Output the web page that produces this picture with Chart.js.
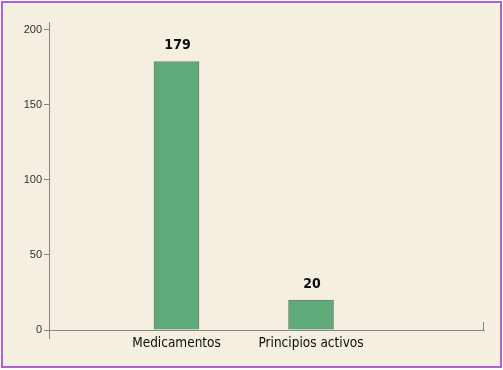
<!DOCTYPE html>
<html>
<head>
<meta charset="utf-8">
<script src="https://cdn.jsdelivr.net/npm/chart.js@4/dist/chart.umd.min.js"></script>
<style>
  body { margin: 0; background: #ffffff; }
  canvas { display: block; }
</style>
</head>
<body>
<canvas id="chart" width="503" height="370"></canvas>
<script>
// datos del gráfico
const categories = ["Medicamentos", "Principios activos"];
const values = [179, 20];
const yTicks = [0, 50, 100, 150, 200];

const condensed = "'DejaVu Sans Condensed', 'DejaVu Sans', sans-serif";

// fondo beige + marco morado
const framePlugin = {
    id: "frame",
    beforeDraw(chart) {
        const ctx = chart.ctx;
        ctx.save();
        ctx.fillStyle = "#f5efe2";
        ctx.fillRect(2, 2, 499, 365);
        ctx.strokeStyle = "#b061cf";
        ctx.lineWidth = 2;
        ctx.strokeRect(2, 2, 499, 365);
        ctx.restore();
    },
    afterDraw(chart) {
        // pequeña marca al final del eje X
        const { x, y } = chart.scales;
        const ctx = chart.ctx;
        const px = Math.round(x.right) - 0.5;
        const py = y.getPixelForValue(0);
        ctx.save();
        ctx.strokeStyle = "#888888";
        ctx.lineWidth = 1;
        ctx.beginPath();
        ctx.moveTo(px, py - 8);
        ctx.lineTo(px, py);
        ctx.stroke();
        ctx.restore();
    }
};

// etiquetas de valor encima de cada barra
const valueLabels = {
    id: "valueLabels",
    afterDatasetsDraw(chart) {
        const ctx = chart.ctx;
        const meta = chart.getDatasetMeta(0);
        ctx.save();
        ctx.font = "bold 14px " + condensed;
        ctx.fillStyle = "#0d0d0d";
        ctx.textAlign = "center";
        ctx.textBaseline = "bottom";
        meta.data.forEach((bar, i) => {
            ctx.fillText(String(values[i]), bar.x + 1, bar.y - 9);
        });
        ctx.restore();
    }
};

const ctx = document.getElementById("chart").getContext("2d");
new Chart(ctx, {
    type: "bar",
    data: {
        datasets: [{
            data: values.map((v, i) => ({ x: i + 1, y: v })),
            backgroundColor: "#5faa79",
            borderColor: "#7a7a7a",
            borderWidth: 1,
            borderSkipped: "bottom",
            barThickness: 45
        }]
    },
    options: {
        responsive: false,
        animation: false,
        layout: {
            padding: { left: 0, top: 22, right: 19, bottom: 32 }
        },
        plugins: {
            legend: { display: false },
            tooltip: { enabled: false }
        },
        scales: {
            x: {
                type: "linear",
                position: { y: 0 },
                offset: false,
                min: 0.052,
                max: 3.286,
                afterBuildTicks: scale => {
                    scale.ticks = categories.map((c, i) => ({ value: i + 1 }));
                },
                afterFit: scale => { scale.height = 0; },
                grid: { display: false, drawTicks: false },
                border: { display: true, color: "#888888", width: 1 },
                ticks: {
                    padding: 5,
                    color: "#0d0d0d",
                    font: { family: condensed, size: 13.5 },
                    callback: v => categories[v - 1] || ""
                }
            },
            y: {
                min: -5.33,
                max: 205.3,
                afterBuildTicks: scale => {
                    scale.ticks = yTicks.map(v => ({ value: v }));
                },
                afterFit: scale => { scale.width = 49; },
                grid: { drawOnChartArea: false, tickLength: 5, color: "#888888" },
                border: { display: true, color: "#888888", width: 1 },
                ticks: {
                    padding: 2,
                    color: "#333333",
                    font: { family: "'Liberation Sans', Arial, sans-serif", size: 11 }
                }
            }
        }
    },
    plugins: [framePlugin, valueLabels]
});
</script>
</body>
</html>
